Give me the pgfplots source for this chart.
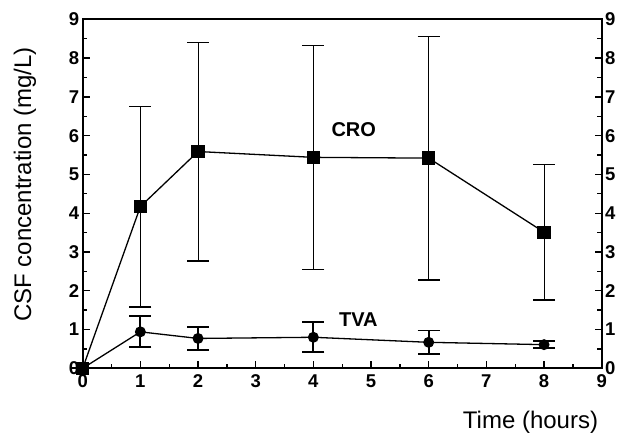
\documentclass[border=0pt]{standalone}
\usepackage{fontspec}
\setmainfont{Liberation Sans}
\usepackage{pgfplots}
\pgfplotsset{compat=1.18}
\begin{document}
\begin{tikzpicture}
\pgfplotsset{
  common/.style={
    scale only axis, width=519pt, height=349pt,
    at={(0,0)}, anchor=south west,
    xmin=0, xmax=9, ymin=0, ymax=9,
    xtick={0,...,9}, ytick={0,...,9},
    minor x tick num=1, minor y tick num=1,
    tick align=inside,
    major tick length=7pt, minor tick length=4.5pt,
    every tick/.style={black, line width=1.3pt},
    axis line style={line width=1.8pt},
    /pgf/number format/assume math mode=true,
    ticklabel style={font=\bfseries\fontsize{18.5}{19}\selectfont},
    clip=false,
  }
}
\begin{axis}[common,
  xtick pos=bottom, ytick pos=left,
  xticklabel style={yshift=-3pt},
  yticklabel style={xshift=0pt},
]
% CRO
\addplot[black, line width=1.3pt, mark=square*, mark size=6pt, mark options={solid},
  error bars/.cd, y dir=both, y explicit,
  error bar style={line width=1pt},
  error mark options={rotate=90, mark size=11pt, line width=1.3pt}]
coordinates {
 (0,0) +- (0,0)
 (1,4.17) +- (0,2.59)
 (2,5.59) +- (0,2.82)
 (4,5.44) +- (0,2.89)
 (6,5.42) +- (0,3.14)
 (8,3.51) +- (0,1.75)
};
% TVA
\addplot[black, line width=1.3pt, mark=*, mark size=4.8pt, mark options={solid},
  error bars/.cd, y dir=both, y explicit,
  error bar style={line width=1.8pt},
  error mark options={rotate=90, mark size=11pt, line width=1.8pt}]
coordinates {
 (0,0) +- (0,0)
 (1,0.94) +- (0,0.40)
 (2,0.77) +- (0,0.30)
 (4,0.80) +- (0,0.39)
 (6,0.67) +- (0,0.305)
 (8,0.61) +- (0,0.085)
};
\node[font=\bfseries\fontsize{20}{22}\selectfont] at (axis cs:4.70,6.15) {CRO};
\node[font=\bfseries\fontsize{20}{22}\selectfont] at (axis cs:4.78,1.25) {TVA};
\node[font=\fontsize{24}{26}\selectfont, rotate=90, yshift=57.7pt] at (axis description cs:0,0.527) {CSF concentration (mg/L)};
\node[font=\fontsize{24}{26}\selectfont, anchor=base, xshift=447.8pt, yshift=-60pt] at (axis description cs:0,0) {Time (hours)};
\end{axis}
\begin{axis}[common,
  axis x line=none, axis y line*=right,
  ytick pos=right, yticklabel pos=right,
  yticklabel style={xshift=0pt},
]
\addplot[draw=none] coordinates {(0,0)};
\end{axis}
\pgfresetboundingbox
\path[use as bounding box] (-82.7pt,-64.7pt) rectangle (538.3pt,368.3pt);
\end{tikzpicture}
\end{document}
